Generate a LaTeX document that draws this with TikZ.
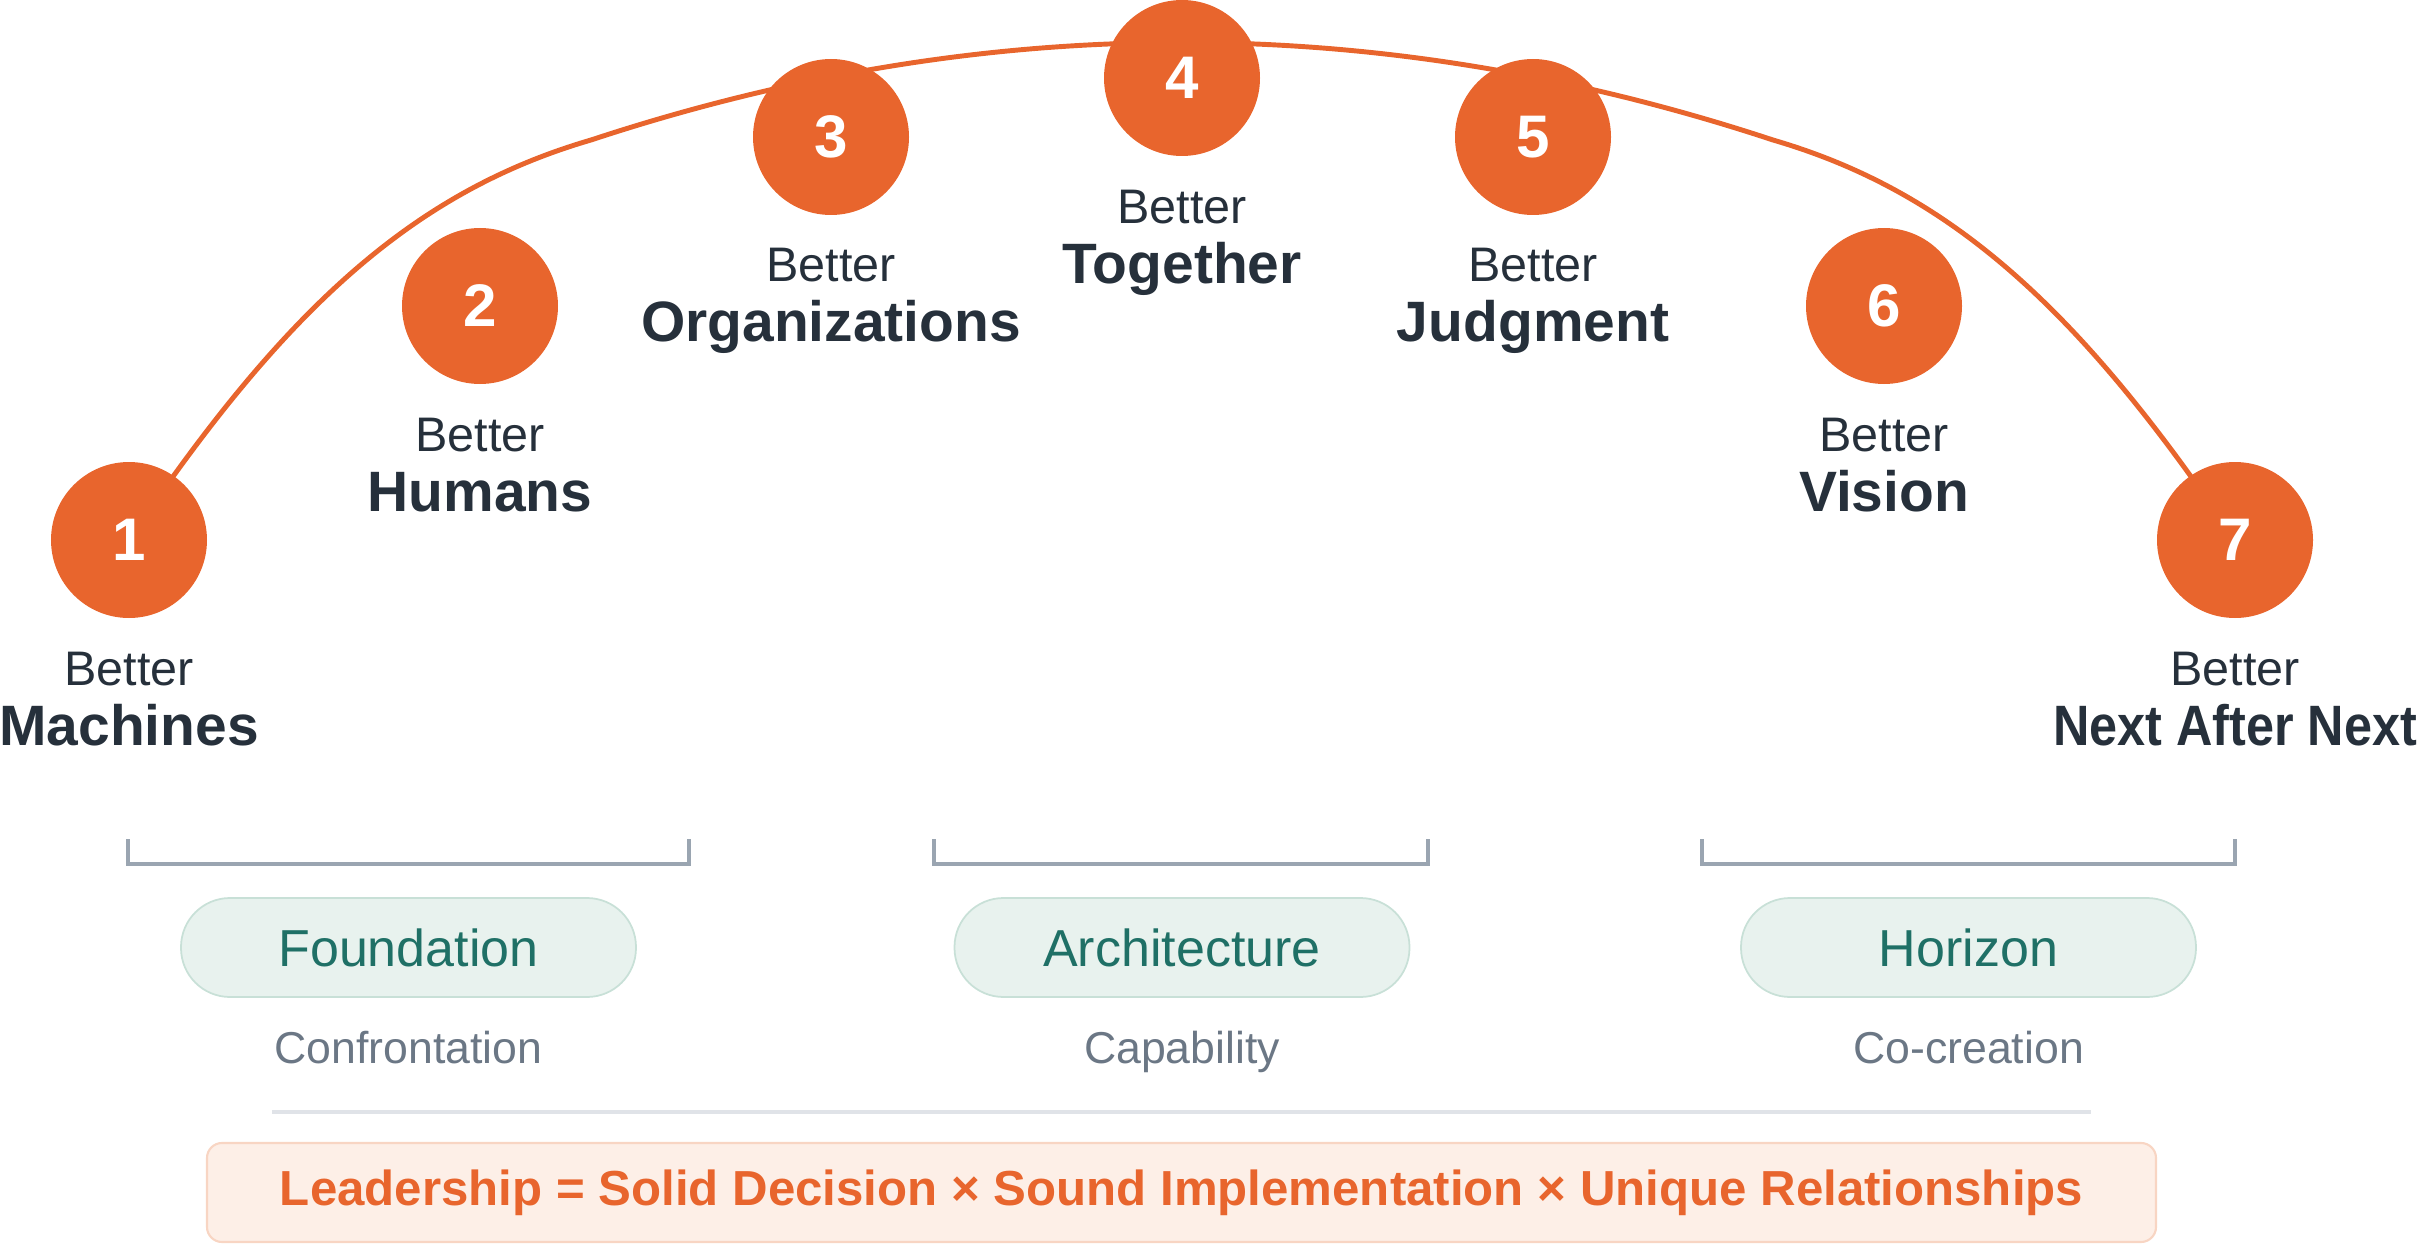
\documentclass[tikz,border=0pt]{standalone}
\usepackage{fontspec}
\setmainfont{Liberation Sans}
\definecolor{Accent}{RGB}{232,101,45}
\definecolor{Ink}{RGB}{38,48,59}
\definecolor{Teal}{RGB}{31,112,102}
\definecolor{Mist}{RGB}{232,242,238}
\definecolor{MistLine}{RGB}{200,224,215}
\definecolor{Slate}{RGB}{107,119,133}
\definecolor{Rule}{RGB}{154,165,177}
\definecolor{Divider}{RGB}{224,227,232}
\definecolor{Peach}{RGB}{253,239,231}
\definecolor{PeachLine}{RGB}{248,213,195}
\usetikzlibrary{positioning,backgrounds}

\begin{document}
\begin{tikzpicture}[
  stage/.style={circle,fill=Accent,minimum size=1.56cm,inner sep=0pt,text=white,font=\fontsize{17.1}{20}\selectfont\bfseries},
  better/.style={anchor=base,inner sep=0pt,text=Ink,font=\fontsize{13.8}{16}\selectfont},
  headline/.style={anchor=base,inner sep=0pt,text=Ink,font=\fontsize{16.2}{19}\selectfont\bfseries},
  phasepill/.style={draw=MistLine,line width=0.5pt,fill=Mist,rounded corners=0.49cm,minimum width=4.55cm,minimum height=0.99cm,text=Teal,font=\fontsize{14.8}{17}\selectfont},
  modelabel/.style={anchor=base,inner sep=0pt,text=Slate,font=\fontsize{12.7}{15}\selectfont},
  bracketline/.style={draw=Rule,line width=0.9pt},
]
  \useasboundingbox (0,0) rectangle (24.21,12.43);

  \foreach \i/\x/\y/\what in {1/1.29/7.03/Machines, 2/4.80/9.37/Humans, 3/8.31/11.06/Organizations,
      4/11.82/11.65/Together, 5/15.33/11.06/Judgment, 6/18.84/9.37/Vision,
      7/22.35/7.03/{\scalebox{0.885}[1]{Next After Next}}}{
    \node[stage] (s\i) at (\x,\y) {\i};
    \node[better] (b\i) at (\x,\y-1.45) {Better};
    \node[headline] (h\i) at (\x,\y-2.05) {\what};
  }

  \begin{pgfonlayer}{background}
    \coordinate (k1) at (5.91,11.03);
    \coordinate (k2) at (17.73,11.03);
    \draw[Accent,line width=1.4pt] (s1.center) .. controls (2.90,9.43) and (4.20,10.53) .. (k1)
      .. controls (9.85,12.33) and (13.79,12.33) .. (k2)
      .. controls (19.44,10.53) and (20.74,9.43) .. (s7.center);
  \end{pgfonlayer}

  \draw[bracketline] (1.28,4.04) |- (6.89,3.79) -- (6.89,4.04);
  \draw[bracketline] (9.34,4.04) |- (14.28,3.79) -- (14.28,4.04);
  \draw[bracketline] (17.02,4.04) |- (22.35,3.79) -- (22.35,4.04);

  \node[phasepill] (p1) at (4.085,2.955) {Foundation};
  \node[phasepill] (p2) at (11.82,2.955) {Architecture};
  \node[phasepill] (p3) at (19.685,2.955) {Horizon};

  \node[modelabel] (m1) at (4.085,1.80) {Confrontation};
  \node[modelabel] (m2) at (11.82,1.80) {Capability};
  \node[modelabel] (m3) at (19.685,1.80) {Co-creation};

  \draw[Divider,line width=1.1pt] (2.72,1.31) -- (20.91,1.31);

  \node[draw=PeachLine,fill=Peach,line width=0.6pt,rounded corners=0.15cm,minimum width=19.49cm,minimum height=0.99cm,
        text height=0.72em,text depth=0pt,text=Accent,font=\fontsize{14}{17}\selectfont\bfseries]
    (lead) at (11.815,0.505) {Leadership = Solid Decision × Sound Implementation × Unique Relationships};
\end{tikzpicture}
\end{document}
